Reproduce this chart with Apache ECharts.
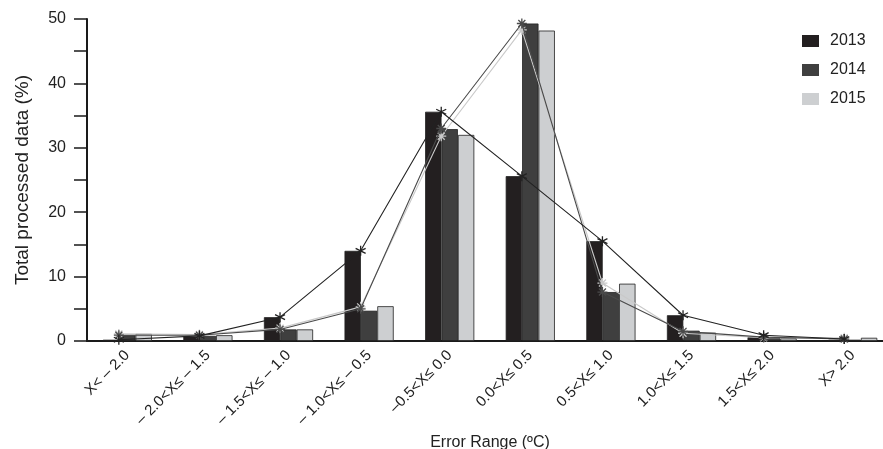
<!DOCTYPE html>
<html>
<head>
<meta charset="utf-8">
<script src="https://cdn.jsdelivr.net/npm/echarts@6/dist/echarts.min.js"></script>
<style>html,body{margin:0;padding:0;background:#fff}#c{width:883px;height:449px}</style>
</head>
<body>
<div id="c"></div>
<script>
var categories = ['X< \u2013 2.0', '\u2013 2.0<X\u2264 \u2013 1.5', '\u2013 1.5<X\u2264 \u2013 1.0', '\u2013 1.0<X\u2264 \u2013 0.5', '\u20130.5<X\u2264 0.0', '0.0<X\u2264 0.5', '0.5<X\u2264 1.0', '1.0<X\u2264 1.5', '1.5<X\u2264 2.0', 'X> 2.0'];
var years = ['2013', '2014', '2015'];
var v2013 = [0.2, 0.7, 3.7, 14.0, 35.6, 25.6, 15.5, 4.0, 0.6, 0.2];
var v2014 = [0.9, 0.8, 1.8, 4.7, 32.9, 49.3, 7.6, 1.6, 0.5, 0.2];
var v2015 = [1.1, 0.9, 1.8, 5.4, 32.0, 48.2, 8.9, 1.3, 0.4, 0.5];
var line2013 = [0.2, 0.8, 3.7, 14.0, 35.6, 25.6, 15.5, 4.0, 0.9, 0.3];
var line2014 = [0.9, 0.9, 1.8, 5.0, 33.0, 49.3, 7.6, 1.5, 0.6, 0.3];
var line2015 = [1.1, 1.0, 2.0, 5.3, 31.8, 48.3, 9.0, 1.2, 0.5, 0.5];

var font = 'Liberation Sans, Arial, sans-serif';
var barColors = ['#231f20', '#3f3f3f', '#cdcfd1'];
var lineColors = ['#222222', '#4a4a4a', '#c9c9c9'];
var off = -0.105;
function pts(arr) { return arr.map(function (v, i) { return [i + off, v]; }); }
var star6 = 'path://M5,0L5,10M0.7,2.5L9.3,7.5M9.3,2.5L0.7,7.5';
var star8 = 'path://M5,0L5,10M0,5L10,5M1.5,1.5L8.5,8.5M8.5,1.5L1.5,8.5';

var chart = echarts.init(document.getElementById('c'), null, {renderer: 'canvas'});
var barVals = [v2013, v2014, v2015];
var lineVals = [line2013, line2014, line2015];
var series = [];
for (var k = 0; k < 3; k++) {
  series.push({
    name: years[k], type: 'bar', xAxisIndex: 0, yAxisIndex: 0,
    data: barVals[k], barGap: '0%', barCategoryGap: '39%',
    itemStyle: {color: barColors[k], borderColor: '#222', borderWidth: 0.8},
    z: 2
  });
}
for (var k = 0; k < 3; k++) {
  series.push({
    name: years[k] + ' line', type: 'line', xAxisIndex: 1, yAxisIndex: 0,
    data: pts(lineVals[k]),
    symbol: k === 0 ? star6 : star8, symbolSize: 10,
    lineStyle: {color: lineColors[k], width: 1.1},
    itemStyle: {color: lineColors[k], borderColor: lineColors[k], borderWidth: 1.3},
    z: 5 - k
  });
}

chart.setOption({
  animation: false,
  backgroundColor: '#fff',
  textStyle: {fontFamily: font},
  grid: {left: 87, top: 19, width: 806, height: 322, containLabel: false, outerBoundsMode: 'none'},
  legend: {
    orient: 'vertical', left: 802, top: 33, padding: 0, itemWidth: 17, itemHeight: 12, itemGap: 13,
    data: years, icon: 'rect', itemStyle: {borderWidth: 0},
    textStyle: {fontSize: 16, color: '#222', fontFamily: font, padding: [0, 0, 0, 6]}
  },
  xAxis: [{
    type: 'category', data: categories, boundaryGap: true,
    axisLine: {lineStyle: {color: '#1a1a1a', width: 2}},
    axisTick: {show: false},
    axisLabel: {interval: 0, rotate: 45, fontSize: 15, color: '#222', margin: 12, fontFamily: font},
    name: 'Error Range (\u00baC)', nameLocation: 'middle', nameGap: 86,
    nameTextStyle: {fontSize: 16, color: '#222', fontFamily: font}
  }, {
    type: 'value', min: -0.5, max: 9.5, show: false
  }],
  yAxis: {
    type: 'value', min: 0, max: 50, interval: 5,
    axisLine: {show: true, onZero: false, lineStyle: {color: '#1a1a1a', width: 2}},
    axisTick: {show: true, length: 13, lineStyle: {color: '#1a1a1a', width: 1.5}},
    splitLine: {show: false},
    axisLabel: {
      fontSize: 16, color: '#222', margin: 21, fontFamily: font,
      formatter: function (v) { return v % 10 === 0 ? String(v) : ''; }
    },
    name: 'Total processed data (%)', nameLocation: 'middle', nameGap: 55,
    nameTextStyle: {fontSize: 19, color: '#222', fontFamily: font}
  },
  series: series
});
</script>
</body>
</html>
